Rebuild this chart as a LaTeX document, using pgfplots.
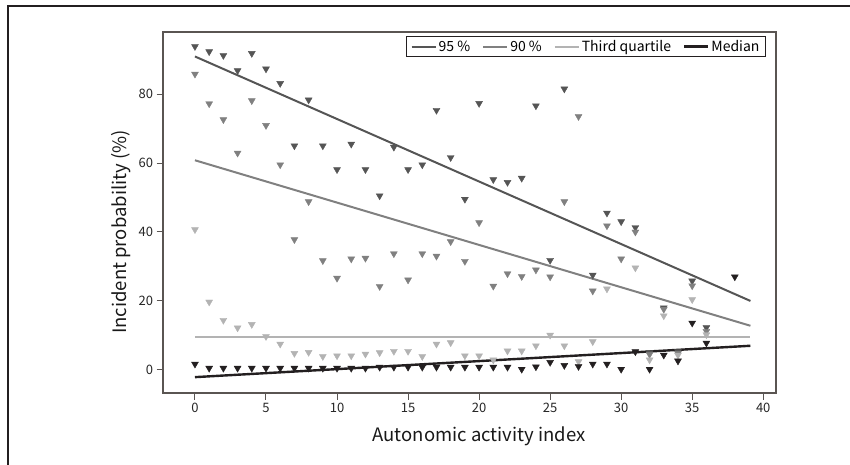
\documentclass[border=0pt]{standalone}
\usepackage{fontspec}
\setmainfont{Noto Sans CJK SC}
\usepackage{pgfplots}
\pgfplotsset{compat=1.18}

\definecolor{cNF}{HTML}{555555}
\definecolor{cNZ}{HTML}{808080}
\definecolor{cTQ}{HTML}{B3B3B3}
\definecolor{cMD}{HTML}{231F20}
\definecolor{axc}{HTML}{5A5552}

\begin{document}
\begin{tikzpicture}[x=1pt,y=1pt]
\useasboundingbox (0,0) rectangle (850,464);
\draw[line width=1.4pt, cMD] (8,-2) -- (8,458) -- (852,458);
\begin{axis}[
  at={(163pt,71pt)}, anchor=south west,
  scale only axis, width=613pt, height=361pt,
  xmin=-2.25, xmax=40.9, ymin=-6.7, ymax=98,
  xtick={0,5,...,40}, ytick={0,20,...,80},
  tick align=outside, xtick pos=bottom, ytick pos=left,
  major tick length=6.5pt,
  axis line style={line width=1.4pt, axc},
  every tick/.style={line width=1pt, axc},
  tick label style={font=\fontsize{13}{15}\selectfont, text=black!85},
  /pgf/number format/assume math mode=true,
  xlabel={Autonomic activity index},
  ylabel={Incident probability (\%)},
  label style={font=\fontsize{18.5}{22}\selectfont, text=black!90},
  xlabel style={at={(axis description cs:0.5156,-0.121)}, anchor=center},
  ylabel style={at={(axis description cs:-0.0685,0.446)}, anchor=center},
  mark size=4pt,
  legend columns=4,
  legend style={at={(axis description cs:0.9837,0.9897)}, anchor=north east,
    draw=cMD, line width=1pt, font=\fontsize{14}{17}\selectfont,
    inner xsep=4pt, inner ysep=2pt,
    /tikz/every odd column/.append style={column sep=0pt},
    /tikz/every even column/.append style={column sep=10pt}},
  legend image code/.code={\draw[#1] (0pt,0pt) -- (24pt,0pt);},
]
% regression lines
\addplot[cNF, line width=2pt] coordinates {(0,90.9) (39.1,20.0)};
\addplot[cNZ, line width=2pt] coordinates {(0,60.8) (39.1,12.8)};
\addplot[cTQ, line width=2pt] coordinates {(0,9.5) (39.1,9.5)};
\addplot[cMD, line width=2.4pt] coordinates {(0,-2.1) (39.1,7.0)};
\legend{95 \%, 90 \%, Third quartile, Median}

% observed values
\addplot[only marks, mark=triangle*, mark options={rotate=180, fill=cNF, draw=cNF}, forget plot] coordinates {
  (0,93.8)(1,92.3)(2,91.2)(3,86.8)(4,91.8)(5,87.3)(6,83.1)(7,65)(8,78.3)(9,65)
  (10,58.1)(11,65.5)(12,58.1)(13,50.5)(14,64.6)(15,58.1)(16,59.5)(17,75.3)(18,61.6)(19,49.5)
  (20,77.3)(21,55.2)(22,54.4)(23,55.6)(24,76.6)(25,31.8)(26,81.5)(28,27.5)(29,45.5)(30,43)
  (31,41.3)(32,5)(33,18)(34,5.3)(35,25.8)(36,12.3)
};
\addplot[only marks, mark=triangle*, mark options={rotate=180, fill=cNZ, draw=cNZ}, forget plot] coordinates {
  (0,85.8)(1,77.2)(2,72.6)(3,62.9)(4,78.1)(5,70.9)(6,59.5)(7,37.8)(8,48.8)(9,31.7)
  (10,26.6)(11,32.2)(12,32.4)(13,24.2)(14,33.7)(15,26.1)(16,33.7)(17,33)(18,37.2)(19,31.5)
  (20,42.7)(21,24.3)(22,27.9)(23,27.1)(24,29)(25,27)(26,48.8)(27,73.5)(28,22.9)(29,41.8)
  (30,32.2)(31,40)(32,4.5)(33,17.6)(34,4.8)(35,24.4)(36,11.2)
};
\addplot[only marks, mark=triangle*, mark options={rotate=180, fill=cTQ, draw=cTQ}, forget plot] coordinates {
  (0,40.7)(1,19.7)(2,14.4)(3,12.2)(4,13.2)(5,9.7)(6,7.5)(7,4.8)(8,5.1)(9,3.9)
  (10,4.1)(11,4.1)(12,4.6)(13,5.0)(14,5.4)(15,5.4)(16,3.9)(17,7.5)(18,7.9)(19,4.1)
  (20,4.1)(21,2.9)(22,5.5)(23,5.5)(24,7)(25,10.1)(26,7)(27,2.4)(28,8.2)(29,23.5)
  (31,29.6)(32,2.9)(33,15.7)(34,4.3)(35,20.4)(36,10.2)
};
\addplot[only marks, mark=triangle*, mark options={rotate=180, fill=cMD, draw=cMD}, forget plot] coordinates {
  (0,1.7)(1,0.5)(2,0.5)(3,0.5)(4,0.5)(5,0.5)(6,0.5)(7,0.5)(8,0.5)(9,0.5)
  (10,0.5)(11,0.5)(12,0.5)(13,0.8)(14,0.8)(15,0.8)(16,0.8)(17,0.8)(18,0.8)(19,0.8)
  (20,0.8)(21,0.8)(22,0.8)(23,0.2)(24,0.9)(25,2.2)(26,1.3)(27,1.0)(28,1.7)(29,1.7)
  (30,0.2)(31,5.3)(32,0.2)(33,4.3)(34,2.6)(35,13.6)(36,7.8)(38,27)
};
\end{axis}
\end{tikzpicture}
\end{document}
